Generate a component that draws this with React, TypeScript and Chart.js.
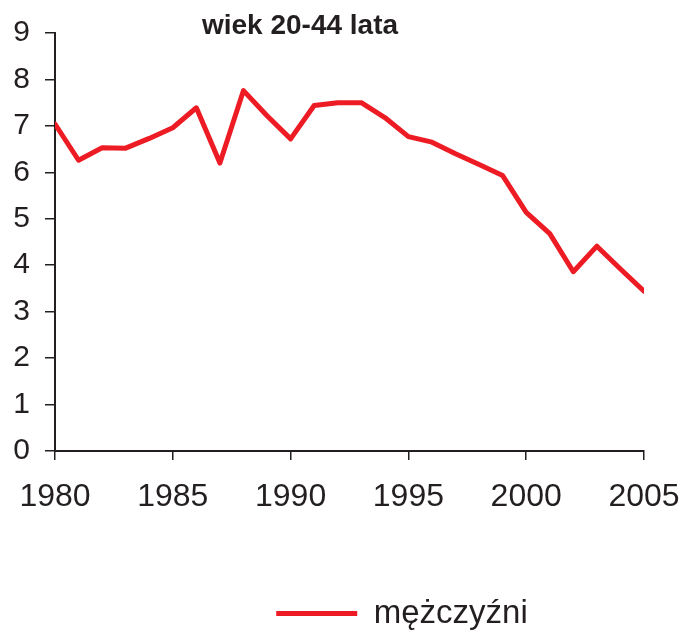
import React, { useEffect, useRef } from "react";
import { Chart, registerables } from "chart.js";

Chart.register(...registerables);

const titleText = "wiek 20-44 lata";
const seriesLabel = "mężczyźni";
const years = [1980, 1981, 1982, 1983, 1984, 1985, 1986, 1987, 1988, 1989, 1990, 1991, 1992, 1993, 1994, 1995, 1996, 1997, 1998, 1999, 2000, 2001, 2002, 2003, 2004, 2005];
const values = [7.04, 6.26, 6.53, 6.52, 6.73, 6.96, 7.39, 6.2, 7.76, 7.22, 6.72, 7.44, 7.5, 7.5, 7.18, 6.77, 6.65, 6.4, 6.17, 5.93, 5.14, 4.68, 3.86, 4.41, 3.92, 3.44];
const yMin = 0;
const yMax = 9;
const xMin = 1980;
const xMax = 2005;

const INK = "#231f20";
const RED = "#ed1c24";
const FONT = "'Liberation Sans', Arial, Helvetica, sans-serif";

const titlePlugin = {
  id: "innerTitle",
  afterLayout(chart: any) {
    const lg = chart.legend;
    if (lg) {
      lg.left += 80;
      lg.right += 80;
      lg.top += 4;
      lg.bottom += 4;
    }
  },
  afterDraw(chart: any) {
    const { ctx, chartArea } = chart;
    ctx.save();
    ctx.font = `bold 28px ${FONT}`;
    ctx.fillStyle = INK;
    ctx.textAlign = "center";
    ctx.textBaseline = "alphabetic";
    ctx.fillText(titleText, chartArea.left + (chartArea.right - chartArea.left) * 0.416, 34);
    ctx.restore();
  },
};

export default function App() {
  const ref = useRef<HTMLCanvasElement>(null);
  useEffect(() => {
    if (!ref.current) return;
    const chart = new Chart(ref.current, {
      type: "line",
      data: {
        datasets: [
          {
            label: seriesLabel,
            data: years.map((y, i) => ({ x: y, y: values[i] })),
            borderColor: RED,
            backgroundColor: RED,
            borderWidth: 5,
            pointRadius: 0,
            tension: 0,
            borderJoinStyle: "round",
            borderCapStyle: "round",
          },
        ],
      },
      options: {
        animation: false,
        responsive: false,
        devicePixelRatio: 1,
        layout: { padding: { left: 0, right: 40, top: 29, bottom: 0 } },
        plugins: {
          title: { display: false },
          tooltip: { enabled: false },
          legend: {
            display: true,
            position: "bottom",
            labels: {
              usePointStyle: true,
              pointStyle: "line",
              pointStyleWidth: 81,
              color: INK,
              padding: 10,
              font: { family: FONT, size: 33 },
            },
          },
        },
        scales: {
          x: {
            type: "linear",
            min: xMin,
            max: xMax,
            afterFit: (s: any) => {
              s.height = 132;
              s.paddingLeft = 0;
              s.paddingRight = 0;
            },
            ticks: {
              stepSize: 5,
              color: INK,
              padding: 18,
              font: { family: FONT, size: 32 },
              callback: (v: any) => String(v),
              maxRotation: 0,
            },
            grid: {
              drawOnChartArea: false,
              drawTicks: true,
              tickLength: 9,
              color: INK,
              lineWidth: 1.5,
            },
            border: { display: true, color: INK, width: 2 },
          },
          y: {
            min: yMin,
            max: yMax,
            afterFit: (s: any) => {
              s.width = 55;
            },
            ticks: {
              stepSize: 1,
              color: INK,
              padding: 15,
              font: { family: FONT, size: 30 },
            },
            grid: {
              drawOnChartArea: false,
              drawTicks: true,
              tickLength: 10,
              color: INK,
              lineWidth: 1.5,
            },
            border: { display: true, color: INK, width: 2 },
          },
        },
      },
      plugins: [titlePlugin],
    });
    return () => chart.destroy();
  }, []);
  return (
    <div style={{ position: "fixed", left: 0, top: 0, width: 684, height: 636, background: "#fff" }}>
      <canvas ref={ref} width={684} height={636} style={{ display: "block" }} />
    </div>
  );
}
